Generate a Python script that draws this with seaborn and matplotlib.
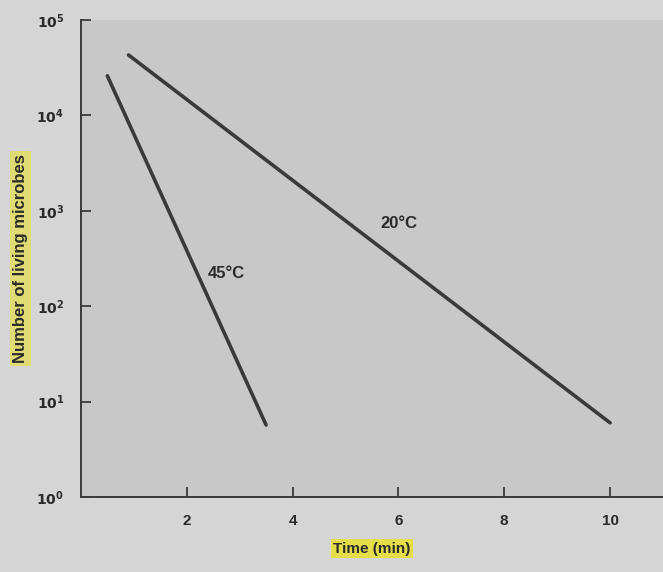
import numpy as np
import pandas as pd
import matplotlib
matplotlib.use("Agg")
import matplotlib.pyplot as plt
import seaborn as sns

# survival curves (time in min, living microbes)
time_45 = [0.5, 3.5]
count_45 = [26000, 5.7]
time_20 = [0.9, 10.0]
count_20 = [43000, 6.0]

x_ticks = [2, 4, 6, 8, 10]
y_ticks = [1, 10, 100, 1000, 10000, 100000]
y_labels = ["$\\mathbf{10^0}$", "$\\mathbf{10^1}$", "$\\mathbf{10^2}$",
            "$\\mathbf{10^3}$", "$\\mathbf{10^4}$", "$\\mathbf{10^5}$"]

df = pd.concat([
    pd.DataFrame({"time": time_45, "count": count_45, "temp": "45°C"}),
    pd.DataFrame({"time": time_20, "count": count_20, "temp": "20°C"}),
])

sns.set_theme(style="white")
plt.rcParams["font.family"] = ["Liberation Sans", "DejaVu Sans"]

fig = plt.figure(figsize=(6.63, 5.72), dpi=100, facecolor="#d5d5d5")
ax = fig.add_axes([0.122, 0.131, 0.878, 0.834])
ax.set_facecolor("#c8c8c8")

sns.lineplot(data=df, x="time", y="count", hue="temp",
             palette={"45°C": "#3a3a3a", "20°C": "#3a3a3a"},
             linewidth=2.6, legend=False, ax=ax)

ax.set_yscale("log")
ax.set_xlim(0, 11)
ax.set_ylim(1, 100000)
ax.set_xticks(x_ticks)
ax.set_xticklabels([str(t) for t in x_ticks], fontsize=11, fontweight="bold", color="#2a2a2a")
ax.set_yticks(y_ticks)
ax.set_yticklabels(y_labels, fontsize=10, color="#2a2a2a")
ax.minorticks_off()
ax.tick_params(axis="both", which="major", bottom=True, left=True, direction="in",
               length=7, width=1.3, color="#3a3a3a", pad=12)

for s in ["top", "right"]:
    ax.spines[s].set_visible(False)
for s in ["left", "bottom"]:
    ax.spines[s].set_color("#3a3a3a")
    ax.spines[s].set_linewidth(1.4)

ax.text(2.75, 220, "45°C", fontsize=12, fontweight="bold", color="#2a2a2a", ha="center", va="center")
ax.text(6.0, 730, "20°C", fontsize=12, fontweight="bold", color="#2a2a2a", ha="center", va="center")

ax.set_xlabel("Time (min)", fontsize=11, fontweight="bold", color="#2a2a2a", labelpad=10,
              bbox=dict(facecolor="#e8e030", edgecolor="none", alpha=0.85, pad=2))
ax.set_ylabel("Number of living microbes", fontsize=12, fontweight="bold", color="#2a2a2a", labelpad=6,
              bbox=dict(facecolor="#e8e030", edgecolor="none", alpha=0.6, pad=2))

fig.savefig("out.png", dpi=100, facecolor=fig.get_facecolor())
